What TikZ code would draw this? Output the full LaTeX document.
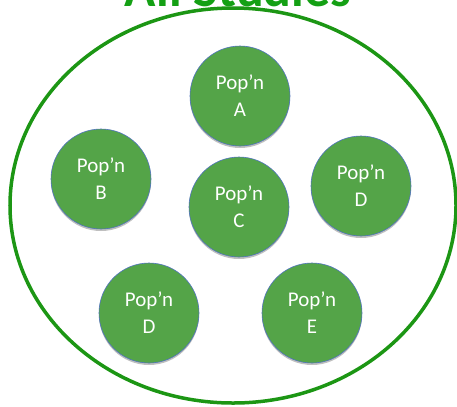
\documentclass[tikz,border=0pt]{standalone}
\usepackage{fontspec}
\setmainfont{Carlito}
\usetikzlibrary{shapes.geometric,shadows}
\definecolor{popfill}{RGB}{84,164,72}
\definecolor{popedge}{RGB}{80,115,190}
\definecolor{ringgreen}{RGB}{28,150,20}
\definecolor{titlegreen}{RGB}{20,160,20}
\tikzset{
  pop/.style={circle, fill=popfill, draw=popedge, line width=0.6pt,
    minimum size=100bp, inner sep=0pt, text=white, align=center,
    font=\fontsize{21}{27}\selectfont,
    drop shadow={shadow xshift=0pt, shadow yshift=-2pt, opacity=0.25, fill=black}},
  ring/.style={ellipse, draw=ringgreen, line width=3.5bp, minimum width=446bp,
    minimum height=395bp, inner sep=0pt},
  title/.style={text=titlegreen, font=\fontsize{52}{52}\selectfont\bfseries, anchor=base}
}
\begin{document}
\begin{tikzpicture}[x=1bp,y=-1bp]
\useasboundingbox (0,0) rectangle (457,406);
\clip (0,0) rectangle (457,406);
\node[title] (t) at (238,6) {All Studies};
\node[ring] (all) at (233,205.5) {};
\node[pop] (a) at (240,96) {Pop’n\\A};
\node[pop] (b) at (101,179) {Pop’n\\B};
\node[pop] (c) at (239,207) {Pop’n\\C};
\node[pop] (d1) at (361,186) {Pop’n\\D};
\node[pop] (d2) at (149,313) {Pop’n\\D};
\node[pop] (e) at (312,313) {Pop’n\\E};
\end{tikzpicture}
\end{document}
